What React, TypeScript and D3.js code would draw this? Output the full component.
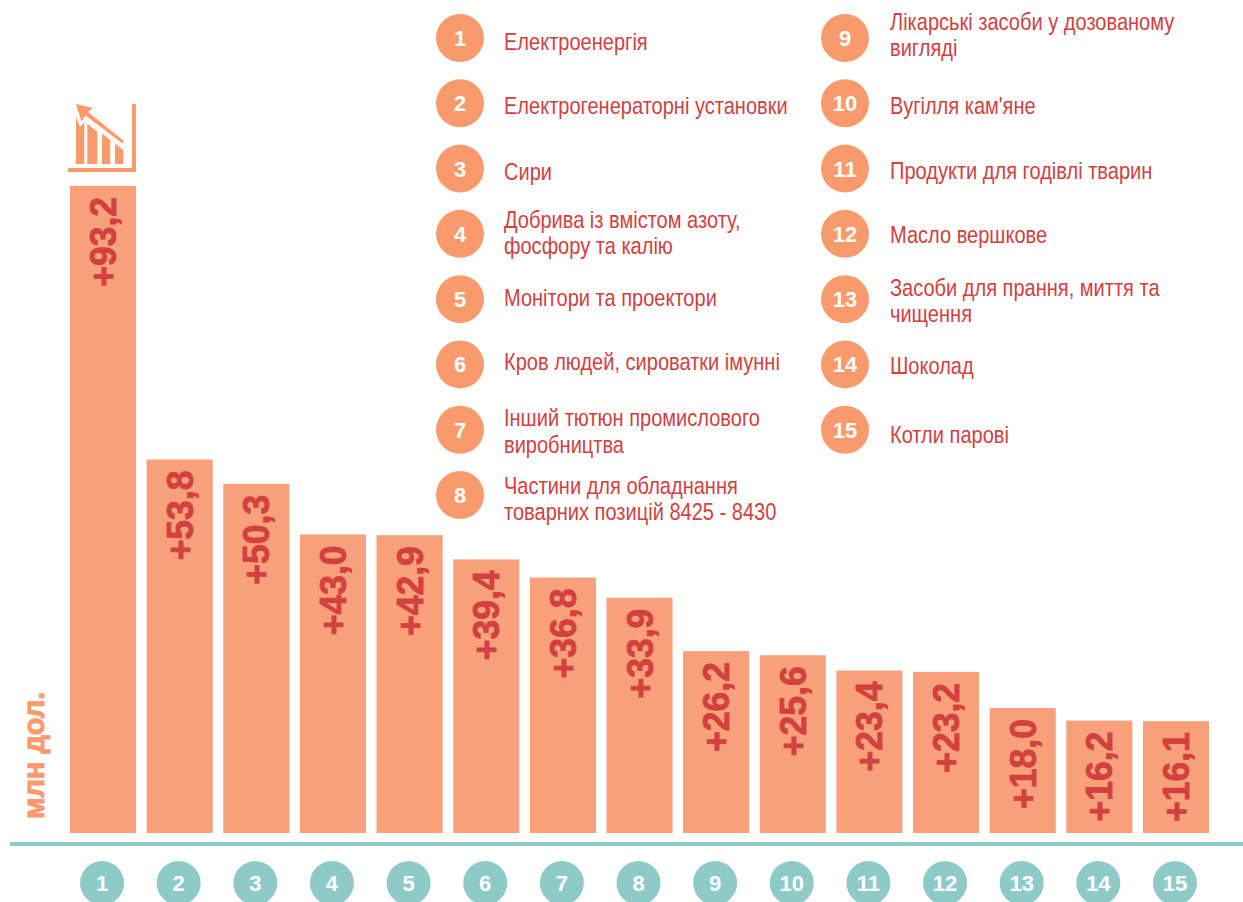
import React from 'react'
import * as d3 from 'd3'

const categories = d3.range(1, 16)
const values = [93.2, 53.8, 50.3, 43.0, 42.9, 39.4, 36.8, 33.9, 26.2, 25.6, 23.4, 23.2, 18.0, 16.2, 16.1]
const valueLabels = ['+93,2', '+53,8', '+50,3', '+43,0', '+42,9', '+39,4', '+36,8', '+33,9', '+26,2', '+25,6', '+23,4', '+23,2', '+18,0', '+16,2', '+16,1']

const legendLeft = [
  ['Електроенергія'],
  ['Електрогенераторні установки'],
  ['Сири'],
  ['Добрива із вмістом азоту,', 'фосфору та калію'],
  ['Монітори та проектори'],
  ['Кров людей, сироватки імунні'],
  ['Інший тютюн промислового', 'виробництва'],
  ['Частини для обладнання', 'товарних позицій 8425 - 8430'],
]
const legendRight = [
  ['Лікарські засоби у дозованому', 'вигляді'],
  ['Вугілля кам\'яне'],
  ['Продукти для годівлі тварин'],
  ['Масло вершкове'],
  ['Засоби для прання, миття та', 'чищення'],
  ['Шоколад'],
  ['Котли парові'],
]
// text baselines don't sit exactly on the circles in the original
const leftNudge = [0, -1, -1, -4, -5, -6, -1, 1]
const rightNudge = [-6, -1, -2, -3, -1, -2, 1]

const W = 1243
const H = 902
const baseline = 833
const orange = '#f99a6c'
const barColor = '#f7a07a'
const red = '#d2403f'
const teal = '#8ecbc8'
const sans = '"Liberation Sans", Arial, sans-serif'

const x = d3.scaleBand<number>().domain(categories).range([70, 1209]).paddingInner(0.138)
const y = d3.scaleLinear().domain([0, 93.2]).range([baseline, 186])
// legend rows sit on a regular grid
const legendY = d3.scalePoint<number>().domain(d3.range(8)).range([38, 495])

function LegendColumn({ items, start, cx, textX, nudge }: { items: string[][]; start: number; cx: number; textX: number; nudge: number[] }) {
  return (
    <g>
      {items.map((lines, i) => {
        const cy = legendY(i)!
        return (
          <g key={i}>
            <circle cx={cx} cy={cy} r={24} fill={orange} />
            <text x={cx} y={cy + 8} textAnchor="middle" fontFamily={sans} fontWeight="bold" fontSize={22} fill="#fff">
              {start + i}
            </text>
            {lines.map((line, k) => {
              const ty = cy + 11 + nudge[i] + (k - (lines.length - 1) / 2) * 26.500 - (lines.length > 1 ? 0 : -1)
              return (
                <text
                  key={k}
                  transform={`translate(${textX},${ty}) scale(0.835,1)`}
                  fontFamily={sans}
                  fontSize={24}
                  fill={red}
                >
                  {line}
                </text>
              )
            })}
          </g>
        )
      })}
    </g>
  )
}

function TrendIcon() {
  return (
    <g fill={orange}>
      <path d="M132 104h4v68H68v-4h64z" />
      <path d="M76 104l17 4-5 4 36 29-1.500 2.500-37-28-4 6z" />
      <path d="M76 117l4 10 4.300-5V164H76z" />
      <path d="M87.300 123.500l10 8.500v32h-10z" />
      <path d="M102 133.500l8.300 6.500v24H102z" />
      <path d="M115 143.500l8.300 6.500v14H115z" />
    </g>
  )
}

export default function App() {
  return (
    <svg width={W} height={H} style={{ position: 'absolute', left: 0, top: 0 }}>
      <rect width={W} height={H} fill="#fff" />
      <TrendIcon />
      <text
        transform="translate(44,819) rotate(-90)"
        fontFamily={sans}
        fontWeight="bold"
        fontSize={29}
        fill={orange}
        stroke={orange}
        strokeWidth={1}
      >
        млн дол.
      </text>
      {categories.map((c, i) => {
        const cx = x(c)! + x.bandwidth() / 2
        return (
          <g key={c}>
            <rect x={x(c)} y={y(values[i])} width={x.bandwidth()} height={baseline - y(values[i])} fill={barColor} />
            <text
              transform={`translate(${cx + 13},${y(values[i]) + 11}) rotate(-90) scale(0.96,1)`}
              textAnchor="end"
              fontFamily={sans}
              fontWeight="bold"
              fontSize={37}
              fill={red}
              stroke={red}
              strokeWidth={0.8}
            >
              {valueLabels[i]}
            </text>
            <circle cx={cx - 1} cy={883} r={22} fill={teal} />
            <text x={cx - 1} y={891} textAnchor="middle" fontFamily={sans} fontWeight="bold" fontSize={22} fill="#fff">
              {c}
            </text>
          </g>
        )
      })}
      <line x1={10} x2={W} y1={844} y2={844} stroke={teal} strokeWidth={4} />
      <LegendColumn items={legendLeft} start={1} cx={460} textX={504} nudge={leftNudge} />
      <LegendColumn items={legendRight} start={9} cx={845} textX={890} nudge={rightNudge} />
    </svg>
  )
}
